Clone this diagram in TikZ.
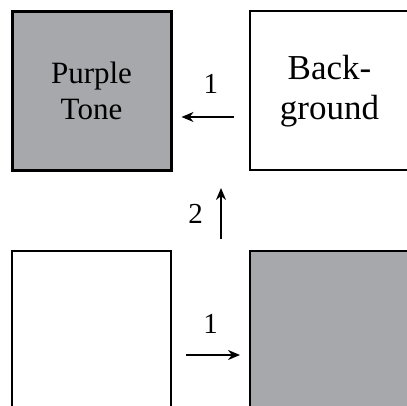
\documentclass[tikz,border=0pt]{standalone}
\usepackage{fontspec}
\setmainfont{Liberation Serif}
\usetikzlibrary{arrows.meta}

\definecolor{tonegray}{RGB}{167,168,172}

\begin{document}
\begin{tikzpicture}[x=1pt, y=1pt,
    cell/.style={draw, line width=2pt, minimum width=159pt, minimum height=159pt,
                 inner sep=0pt, align=center},
    toned/.style={cell, fill=tonegray},
    move/.style={line width=1.8pt, -{Stealth[length=12pt, width=10pt]}},
    stepnum/.style={font=\fontsize{29}{33}\selectfont}]

    % Fix the page size and cut the cells at the border
    \useasboundingbox (0, 0) rectangle (407, 406);
    \clip (0, 0) rectangle (407, 406);

    % Draw the four cells
    \node[toned, line width=3pt, font=\fontsize{31}{36}\selectfont] (tone) at (91.5, 315) {Purple\\Tone};
    \node[cell, font=\fontsize{35}{40}\selectfont] (back) at (329.5, 315) {Back-\\ground};
    \node[cell] (empty) at (91.5, 75.5) {};
    \node[toned] (fill) at (329.5, 75.5) {};

    % Points where the upward arrow starts and ends
    \coordinate (upfrom) at (221, 167);
    \coordinate (upto) at (221, 218);

    % Draw the arrows with their step numbers
    \draw[move, shorten <=15pt, shorten >=9pt] (back.west |- 0, 289) -- (tone.east |- 0, 289)
        node[stepnum, pos=0.5, above=19pt] (one) {1};
    \draw[move] (upfrom) -- (upto) node[stepnum, pos=0.5, left=14pt] (two) {2};
    \draw[move, shorten <=14pt, shorten >=9pt] (empty.east |- 0, 51) -- (fill.west |- 0, 51)
        node[stepnum, pos=0.5, above=17pt] (three) {1};

\end{tikzpicture}
\end{document}
